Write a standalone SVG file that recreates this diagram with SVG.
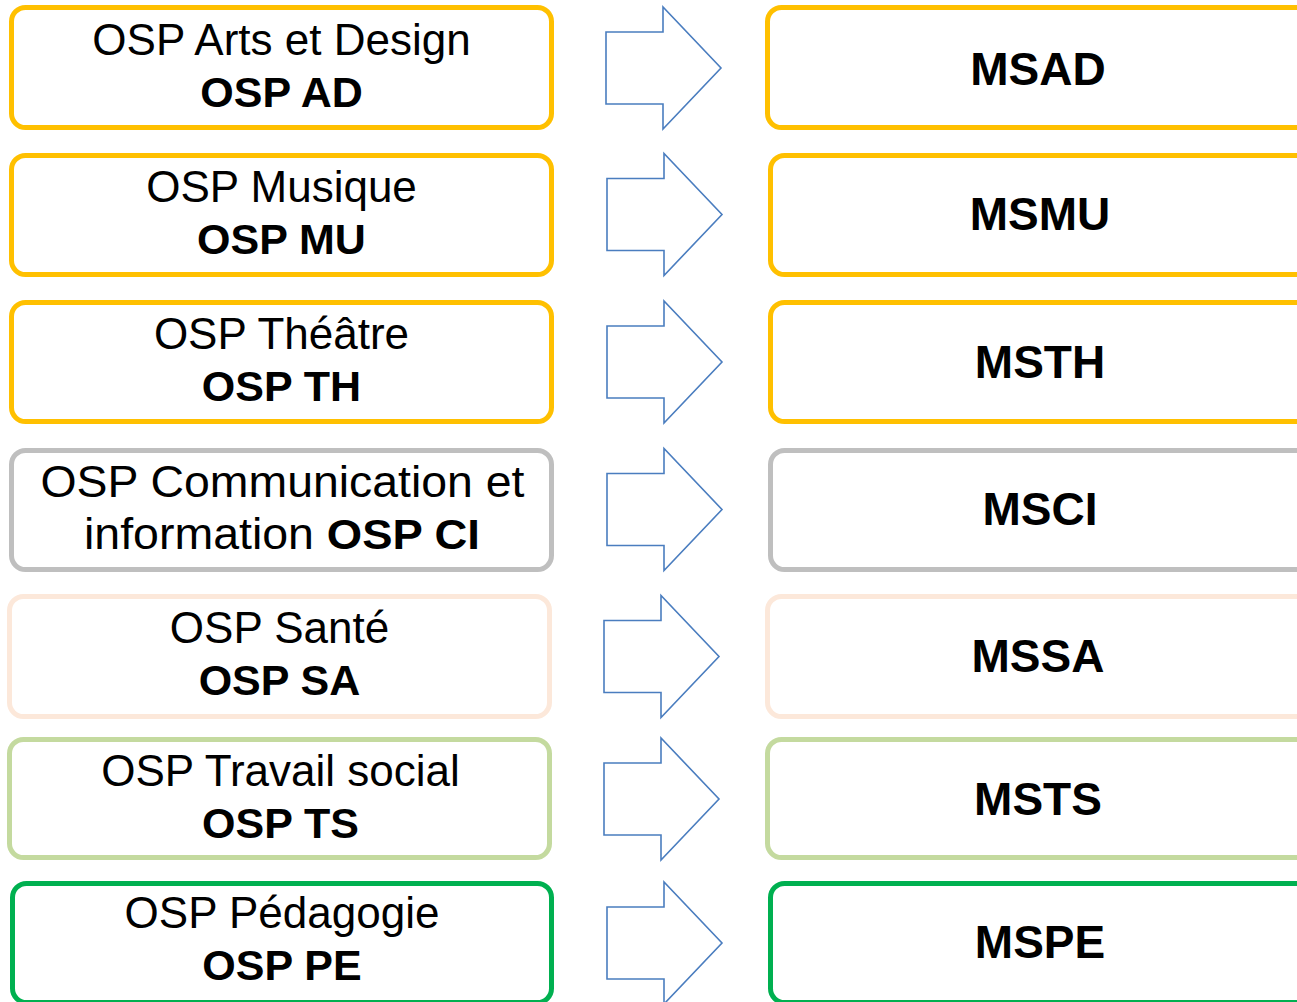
<svg xmlns="http://www.w3.org/2000/svg" xmlns:xlink="http://www.w3.org/1999/xlink" width="1297" height="1002" viewBox="0 0 1297 1002">
<style>
.box{fill:#FFFFFF;stroke-width:5}
.gold{stroke:#FFC000}
.gray{stroke:#BFBFBF}
.peach{stroke:#FCE8DA}
.lgreen{stroke:#C4DA9F}
.green{stroke:#00B050}
.arrow{fill:#FFFFFF;stroke:#4A7DBF;stroke-width:1.6;stroke-linejoin:miter}
.t{font-family:"Liberation Sans",Arial,Helvetica,sans-serif;fill:#000000;text-anchor:middle}
.n{font-size:44px}
.b{font-size:43px;font-weight:bold}
.r{font-size:46px;font-weight:bold}
</style>
<defs>
<path id="arr" class="arrow" d="M0 -36 H57 V-61 L115 0 L57 61 V36 H0 Z"/>
</defs>
<rect width="1297" height="1002" fill="#FFFFFF"/>
<g id="connectors">
<use xlink:href="#arr" href="#arr" transform="translate(606,68)"/>
<use xlink:href="#arr" href="#arr" transform="translate(607,214.5)"/>
<use xlink:href="#arr" href="#arr" transform="translate(607,362)"/>
<use xlink:href="#arr" href="#arr" transform="translate(607,509.5)"/>
<use xlink:href="#arr" href="#arr" transform="translate(604,656.5)"/>
<use xlink:href="#arr" href="#arr" transform="translate(604,799)"/>
<use xlink:href="#arr" href="#arr" transform="translate(607,943)"/>
</g>
<g id="osp-ad">
<rect class="box gold" x="11.5" y="7.5" width="540" height="120" rx="14"/>
<text class="t n" x="281.5" y="55">OSP Arts et Design</text>
<text class="t b" x="281.5" y="107">OSP AD</text>
</g>
<g id="osp-mu">
<rect class="box gold" x="11.5" y="155.5" width="540" height="119" rx="14"/>
<text class="t n" x="281.5" y="202">OSP Musique</text>
<text class="t b" x="281.5" y="254">OSP MU</text>
</g>
<g id="osp-th">
<rect class="box gold" x="11.5" y="302.5" width="540" height="119" rx="14"/>
<text class="t n" x="281.5" y="349">OSP Théâtre</text>
<text class="t b" x="281.5" y="401">OSP TH</text>
</g>
<g id="osp-ci">
<rect class="box gray" x="11.5" y="450.5" width="540" height="119" rx="14"/>
<text class="t n" x="282.5" y="497" textLength="484" lengthAdjust="spacingAndGlyphs">OSP Communication et</text>
<text class="t n" x="282" y="549" textLength="396" lengthAdjust="spacingAndGlyphs">information <tspan style="font-weight:bold;font-size:43px">OSP CI</tspan></text>
</g>
<g id="osp-sa">
<rect class="box peach" x="9.5" y="596.5" width="540" height="120" rx="14"/>
<text class="t n" x="279.5" y="643">OSP Santé</text>
<text class="t b" x="279.5" y="695">OSP SA</text>
</g>
<g id="osp-ts">
<rect class="box lgreen" x="9.5" y="739.5" width="540" height="118" rx="14"/>
<text class="t n" x="280.5" y="786">OSP Travail social</text>
<text class="t b" x="280.5" y="838">OSP TS</text>
</g>
<g id="osp-pe">
<rect class="box green" x="12.5" y="883.5" width="539" height="119" rx="14"/>
<text class="t n" x="282" y="928">OSP Pédagogie</text>
<text class="t b" x="282" y="980">OSP PE</text>
</g>
<g id="msad">
<rect class="box gold" x="767.5" y="7.5" width="600" height="120" rx="14"/>
<text class="t r" x="1038" y="85">MSAD</text>
</g>
<g id="msmu">
<rect class="box gold" x="770.5" y="155.5" width="600" height="119" rx="14"/>
<text class="t r" x="1040" y="230">MSMU</text>
</g>
<g id="msth">
<rect class="box gold" x="770.5" y="302.5" width="600" height="119" rx="14"/>
<text class="t r" x="1040" y="378">MSTH</text>
</g>
<g id="msci">
<rect class="box gray" x="770.5" y="450.5" width="600" height="119" rx="14"/>
<text class="t r" x="1040" y="525">MSCI</text>
</g>
<g id="mssa">
<rect class="box peach" x="767.5" y="596.5" width="600" height="120" rx="14"/>
<text class="t r" x="1038" y="672">MSSA</text>
</g>
<g id="msts">
<rect class="box lgreen" x="767.5" y="739.5" width="600" height="118" rx="14"/>
<text class="t r" x="1038" y="815">MSTS</text>
</g>
<g id="mspe">
<rect class="box green" x="770.5" y="883.5" width="600" height="119" rx="14"/>
<text class="t r" x="1040" y="958">MSPE</text>
</g>
</svg>
